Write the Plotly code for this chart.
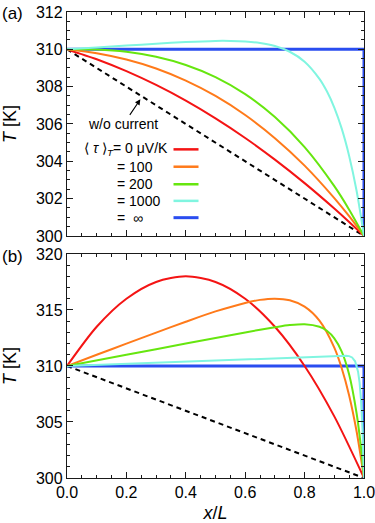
import plotly.graph_objects as go

# ---------------- data ----------------
# Panel (a)
xa_smooth = [0, 0.1, 0.2, 0.3, 0.4, 0.5, 0.6, 0.7, 0.8, 0.9, 0.95, 1.0]
red_a = [310, 309.47, 308.83, 308.09, 307.25, 306.30, 305.25, 304.09, 302.83, 301.47, 300.75, 300]
orange_a = [310, 309.79, 309.45, 308.97, 308.32, 307.50, 306.48, 305.24, 303.77, 302.03, 301.06, 300]
green_a = [310, 309.99, 309.87, 309.60, 309.16, 308.51, 307.60, 306.37, 304.76, 302.67, 301.41, 300]
xa_cyan = [0, 0.1, 0.2, 0.3, 0.4, 0.5, 0.55, 0.6, 0.65, 0.7, 0.75, 0.8, 0.85, 0.875, 0.9, 0.925, 0.95, 0.975, 1.0]
cyan_a = [310, 310.10, 310.20, 310.30, 310.39, 310.45, 310.45, 310.42, 310.34, 310.18, 309.87, 309.34, 308.42, 307.75,
          306.88, 305.75, 304.29, 302.42, 300]
x_blue = [0, 1, 1]
blue_a = [310, 310, 300]
x_nocur = [0, 1]
nocur = [310, 300]

# Panel (b)
xb_red = [0, 0.1, 0.2, 0.3, 0.4, 0.5, 0.6, 0.7, 0.8, 0.9, 1.0]
red_b = [310, 313.5, 316, 317.5, 318, 317.5, 316, 313.5, 310, 305.5, 300]
xb_orange = [0, 0.1, 0.2, 0.3, 0.4, 0.5, 0.6, 0.65, 0.7, 0.75, 0.8, 0.85, 0.9, 0.925, 0.95, 0.975, 1.0]
orange_b = [310, 311.00, 311.99, 312.98, 313.95, 314.87, 315.63, 315.90, 316.01, 315.86, 315.29, 314.04, 311.64,
            309.80, 307.37, 304.17, 300]
xb_green = [0, 0.2, 0.4, 0.6, 0.65, 0.7, 0.75, 0.8, 0.85, 0.875, 0.9, 0.925, 0.95, 0.975, 0.9875, 1.0]
green_b = [310, 311.0, 312.0, 312.995, 313.24, 313.46, 313.65, 313.73, 313.50, 313.14, 312.47, 311.28, 309.23,
           305.78, 303.26, 300]
xb_cyan = [0, 0.5, 0.9, 0.92, 0.94, 0.95, 0.96, 0.97, 0.98, 0.985, 0.99, 0.995, 1.0]
cyan_b = [310, 310.5, 310.90, 310.92, 310.91, 310.88, 310.76, 310.42, 309.49, 308.53, 306.94, 304.32, 300]
blue_b = [310, 310, 300]

legend_labels = ["⟨ <i>τ</i> ⟩<sub><i>T</i></sub>= 0 μV/K", "= 100", "= 200", "= 1000", "=  ∞"]
legend_y = [304.64, 303.71, 302.77, 301.88, 300.98]

# ---------------- styles ----------------
C_RED = "#f41414"
C_ORANGE = "#ff7a1a"
C_GREEN = "#66e60f"
C_CYAN = "#80f5e0"
C_BLUE = "#2a4df0"
FONT = "Liberation Sans, Arial, Helvetica, sans-serif"

fig = go.Figure()


def add(x, y, color, xa, ya, width=2.0, shape="spline", dash=None):
    fig.add_trace(go.Scatter(x=x, y=y, mode="lines", xaxis=xa, yaxis=ya, showlegend=False,
                             line=dict(color=color, width=width, shape=shape, dash=dash,
                                       smoothing=0.8 if shape == "spline" else None),
                             hoverinfo="skip"))


# panel (a)
add(x_nocur, nocur, "black", "x", "y", 2.0, "linear", "5px,4px")
add(x_blue, blue_a, C_BLUE, "x", "y", 3.0, "linear")
add(xa_smooth, red_a, C_RED, "x", "y")
add(xa_smooth, orange_a, C_ORANGE, "x", "y")
add(xa_smooth, green_a, C_GREEN, "x", "y")
add(xa_cyan, cyan_a, C_CYAN, "x", "y")

# panel (b)
add(x_nocur, nocur, "black", "x2", "y2", 2.0, "linear", "5px,4px")
add(x_blue, blue_b, C_BLUE, "x2", "y2", 3.0, "linear")
add(xb_red, red_b, C_RED, "x2", "y2")
add(xb_orange, orange_b, C_ORANGE, "x2", "y2")
add(xb_green, green_b, C_GREEN, "x2", "y2")
add(xb_cyan, cyan_b, C_CYAN, "x2", "y2", 2.0, "linear")

axis_common = dict(showline=True, linecolor="#1a1a1a", linewidth=1.3, mirror="ticks", ticks="inside",
                   ticklen=6, tickwidth=1.1, tickcolor="#1a1a1a", showgrid=False, zeroline=False,
                   automargin=False, ticklabeloverflow="allow",
                   tickfont=dict(size=16, color="black", family=FONT))

fig.update_layout(
    width=375, height=523,
    margin=dict(l=66.7, r=11.3, t=12.4, b=44.7),
    paper_bgcolor="white", plot_bgcolor="white", showlegend=False,
    font=dict(family=FONT, color="black", size=16),
    xaxis=dict(axis_common, domain=[0, 1], anchor="y", range=[0, 1], dtick=0.2, showticklabels=False,
               minor=dict(ticks="inside", ticklen=3, dtick=0.05, tickcolor="#1a1a1a")),
    yaxis=dict(axis_common, domain=[0.5194, 1], anchor="x", range=[300, 312], dtick=2,
               minor=dict(ticks="inside", ticklen=3, dtick=0.5, tickcolor="#1a1a1a"),
               title=dict(text="<i>T</i> [K]", font=dict(size=18), standoff=15)),
    xaxis2=dict(axis_common, domain=[0, 1], anchor="y2", range=[0, 1], dtick=0.2, tickformat=".1f",
                minor=dict(ticks="inside", ticklen=3, dtick=0.05, tickcolor="#1a1a1a"),
                title=dict(text="<i>x</i>/<i>L</i>", font=dict(size=18), standoff=10)),
    yaxis2=dict(axis_common, domain=[0, 0.4808], anchor="x2", range=[300, 320], dtick=5,
                minor=dict(ticks="inside", ticklen=3, dtick=1, tickcolor="#1a1a1a"),
                title=dict(text="<i>T</i> [K]", font=dict(size=18), standoff=15)),
)

# legend texts and keys inside panel (a)
for i, (lab, yv) in enumerate(zip(legend_labels, legend_y)):
    if i == 0:
        fig.add_annotation(x=0.3478, y=yv, xref="x", yref="y", text=lab, showarrow=False,
                           xanchor="right", yanchor="middle", font=dict(size=14, family=FONT, color="black"))
    else:
        fig.add_annotation(x=0.1626, y=yv, xref="x", yref="y", text=lab, showarrow=False,
                           xanchor="left", yanchor="middle", font=dict(size=14, family=FONT, color="black"))
for col, yv in zip([C_RED, C_ORANGE, C_GREEN, C_CYAN, C_BLUE], legend_y):
    fig.add_shape(type="line", xref="x", yref="y", x0=0.3586, x1=0.4428, y0=yv, y1=yv,
                  line=dict(color=col, width=3 if col == C_BLUE else 2.5))

# "w/o current" with arrow
fig.add_annotation(x=0.247, y=307.32, xref="x", yref="y", text="w/o current", showarrow=True,
                   ax=-17, ay=25, arrowhead=2, arrowsize=1, arrowwidth=1.1, arrowcolor="black",
                   font=dict(size=14, family=FONT, color="black"))

# panel labels
fig.add_annotation(x=-0.2246, y=0.9977, xref="paper", yref="paper", text="(a)", showarrow=False,
                   xanchor="left", yanchor="middle", font=dict(size=17, family=FONT))
fig.add_annotation(x=-0.2246, y=0.475, xref="paper", yref="paper", text="(b)", showarrow=False,
                   xanchor="left", yanchor="middle", font=dict(size=17, family=FONT))

# remove the default page margin so the figure sits at the window's top-left corner
fig.write_html("out.html", config={"displayModeBar": False},
               post_script="document.body.style.margin='0px';")
